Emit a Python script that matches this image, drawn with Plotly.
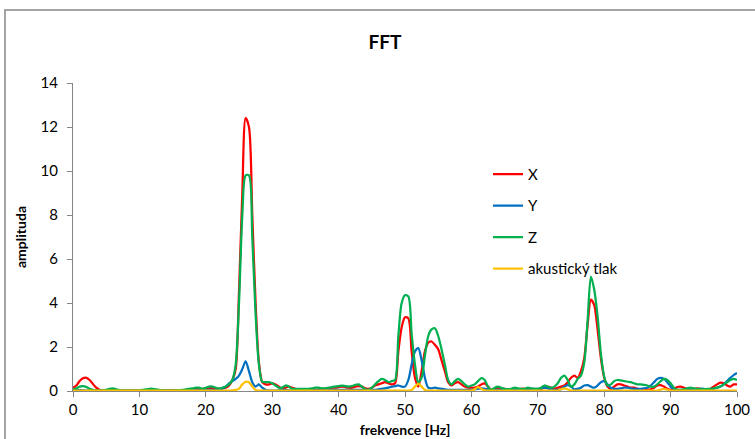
import plotly.graph_objects as go

# Frequency grid [Hz], 0.5 Hz step (categories of the x axis)
freq = [i * 0.5 for i in range(201)]

x_vals = [
    0.15, 0.25, 0.45, 0.58, 0.6, 0.5, 0.32, 0.15, 0.06, 0.03,
    0.02, 0.02, 0.03, 0.03, 0.02, 0.02, 0.02, 0.02, 0.02, 0.02,
    0.02, 0.03, 0.04, 0.05, 0.04, 0.03, 0.03, 0.03, 0.03, 0.03,
    0.03, 0.03, 0.03, 0.03, 0.04, 0.05, 0.06, 0.08, 0.1, 0.1,
    0.12, 0.15, 0.12, 0.08, 0.1, 0.12, 0.15, 0.25, 0.5, 1.0,
    4.5, 9.0, 12.4, 12.0, 8.0, 4.0, 1.3, 0.4, 0.3, 0.3,
    0.35, 0.3, 0.2, 0.1, 0.15, 0.2, 0.15, 0.1, 0.05, 0.05,
    0.05, 0.05, 0.05, 0.05, 0.08, 0.1, 0.1, 0.12, 0.15, 0.15,
    0.18, 0.2, 0.18, 0.15, 0.15, 0.2, 0.22, 0.2, 0.12, 0.1,
    0.15, 0.25, 0.3, 0.35, 0.4, 0.35, 0.3, 0.35, 1.8, 2.9,
    3.35, 3.3, 1.8, 0.6, 0.2, 0.9, 1.8, 2.2, 2.25, 2.1,
    1.9, 1.4, 0.9, 0.4, 0.25, 0.35, 0.4, 0.3, 0.2, 0.15,
    0.15, 0.15, 0.2, 0.3, 0.35, 0.2, 0.05, 0.1, 0.15, 0.1,
    0.1, 0.08, 0.05, 0.05, 0.08, 0.1, 0.1, 0.08, 0.05, 0.05,
    0.08, 0.1, 0.15, 0.2, 0.15, 0.1, 0.15, 0.2, 0.25, 0.4,
    0.6, 0.7, 0.6, 0.9, 1.5, 3.0, 4.15, 3.9, 2.8, 1.5,
    0.6, 0.2, 0.1, 0.2, 0.3, 0.3, 0.25, 0.2, 0.15, 0.15,
    0.1, 0.08, 0.05, 0.05, 0.08, 0.15, 0.25, 0.27, 0.2, 0.1,
    0.05, 0.1, 0.18, 0.2, 0.15, 0.1, 0.05, 0.08, 0.12, 0.1,
    0.05, 0.05, 0.1, 0.2, 0.3, 0.38, 0.35, 0.25, 0.2, 0.3,
    0.3,
]

y_vals = [
    0.05, 0.05, 0.04, 0.03, 0.02, 0.02, 0.02, 0.02, 0.02, 0.02,
    0.02, 0.02, 0.03, 0.03, 0.02, 0.02, 0.02, 0.02, 0.02, 0.02,
    0.02, 0.02, 0.02, 0.02, 0.02, 0.02, 0.02, 0.03, 0.03, 0.02,
    0.02, 0.02, 0.02, 0.02, 0.02, 0.02, 0.03, 0.03, 0.03, 0.03,
    0.03, 0.05, 0.05, 0.03, 0.05, 0.1, 0.2, 0.35, 0.45, 0.55,
    0.7, 1.0, 1.35, 0.9, 0.4, 0.2, 0.3, 0.15, 0.05, 0.03,
    0.02, 0.02, 0.03, 0.05, 0.05, 0.03, 0.02, 0.02, 0.02, 0.02,
    0.02, 0.02, 0.03, 0.03, 0.03, 0.02, 0.02, 0.03, 0.05, 0.05,
    0.05, 0.05, 0.05, 0.05, 0.05, 0.05, 0.05, 0.05, 0.05, 0.05,
    0.05, 0.05, 0.08, 0.1, 0.12, 0.15, 0.2, 0.22, 0.25, 0.2,
    0.2, 0.5, 1.2, 1.8, 1.95, 1.4, 0.6, 0.15, 0.12, 0.15,
    0.12, 0.1, 0.08, 0.05, 0.05, 0.05, 0.05, 0.05, 0.05, 0.05,
    0.05, 0.08, 0.1, 0.12, 0.1, 0.08, 0.05, 0.05, 0.05, 0.05,
    0.05, 0.05, 0.05, 0.05, 0.05, 0.05, 0.05, 0.08, 0.1, 0.1,
    0.1, 0.12, 0.15, 0.12, 0.08, 0.05, 0.05, 0.08, 0.2, 0.27,
    0.2, 0.08, 0.1, 0.15, 0.25, 0.27, 0.2, 0.15, 0.25, 0.4,
    0.45, 0.3, 0.15, 0.1, 0.1, 0.12, 0.15, 0.15, 0.12, 0.1,
    0.1, 0.1, 0.12, 0.15, 0.25, 0.4, 0.55, 0.6, 0.55, 0.4,
    0.2, 0.08, 0.05, 0.05, 0.05, 0.05, 0.05, 0.05, 0.08, 0.1,
    0.1, 0.08, 0.08, 0.1, 0.15, 0.2, 0.3, 0.45, 0.6, 0.72,
    0.82,
]

z_vals = [
    0.05, 0.12, 0.2, 0.22, 0.18, 0.1, 0.05, 0.03, 0.02, 0.02,
    0.05, 0.1, 0.12, 0.08, 0.04, 0.02, 0.02, 0.02, 0.02, 0.02,
    0.03, 0.05, 0.08, 0.1, 0.1, 0.08, 0.05, 0.03, 0.02, 0.02,
    0.02, 0.03, 0.04, 0.05, 0.08, 0.1, 0.12, 0.15, 0.15, 0.1,
    0.15, 0.2, 0.2, 0.15, 0.12, 0.15, 0.2, 0.3, 0.5, 1.2,
    4.0, 8.0, 9.8, 9.8, 7.0, 3.5, 1.2, 0.42, 0.4, 0.4,
    0.35, 0.25, 0.15, 0.15, 0.25, 0.2, 0.1, 0.1, 0.1, 0.1,
    0.1, 0.1, 0.12, 0.15, 0.15, 0.12, 0.12, 0.15, 0.18, 0.2,
    0.22, 0.25, 0.22, 0.2, 0.22, 0.28, 0.3, 0.2, 0.08, 0.05,
    0.15, 0.3, 0.45, 0.55, 0.5, 0.4, 0.45, 0.5, 2.5, 4.0,
    4.35, 4.3, 2.6, 1.2, 0.4, 0.6, 1.6, 2.5, 2.8, 2.85,
    2.5, 1.9, 1.2, 0.5, 0.3, 0.45, 0.55, 0.45, 0.3, 0.2,
    0.25, 0.3, 0.45, 0.58, 0.5, 0.2, 0.05, 0.15, 0.2, 0.15,
    0.1, 0.08, 0.1, 0.15, 0.12, 0.1, 0.1, 0.15, 0.12, 0.1,
    0.1, 0.15, 0.25, 0.2, 0.15, 0.2, 0.35, 0.6, 0.7, 0.5,
    0.2, 0.3, 0.55, 0.7, 1.3, 3.2, 5.2, 4.6, 3.4, 1.7,
    0.65, 0.25, 0.3, 0.45, 0.5, 0.48, 0.45, 0.42, 0.4, 0.35,
    0.3, 0.3, 0.28, 0.25, 0.2, 0.2, 0.3, 0.45, 0.55, 0.5,
    0.35, 0.15, 0.05, 0.05, 0.08, 0.12, 0.15, 0.12, 0.1, 0.1,
    0.08, 0.1, 0.1, 0.12, 0.15, 0.2, 0.3, 0.4, 0.5, 0.55,
    0.5,
]

tlak_vals = [
    0.02, 0.02, 0.02, 0.02, 0.02, 0.02, 0.02, 0.02, 0.02, 0.02,
    0.02, 0.02, 0.02, 0.02, 0.02, 0.02, 0.02, 0.02, 0.02, 0.02,
    0.02, 0.02, 0.02, 0.02, 0.02, 0.02, 0.02, 0.02, 0.02, 0.02,
    0.02, 0.02, 0.02, 0.02, 0.02, 0.02, 0.02, 0.02, 0.02, 0.02,
    0.02, 0.02, 0.02, 0.02, 0.02, 0.02, 0.02, 0.02, 0.03, 0.05,
    0.1, 0.3, 0.42, 0.4, 0.2, 0.05, 0.02, 0.02, 0.02, 0.02,
    0.02, 0.02, 0.02, 0.02, 0.02, 0.02, 0.02, 0.02, 0.02, 0.02,
    0.02, 0.02, 0.02, 0.02, 0.02, 0.02, 0.02, 0.02, 0.02, 0.02,
    0.02, 0.02, 0.02, 0.02, 0.02, 0.02, 0.02, 0.02, 0.02, 0.02,
    0.02, 0.02, 0.02, 0.02, 0.02, 0.02, 0.02, 0.02, 0.02, 0.02,
    0.02, 0.02, 0.05, 0.2, 0.32, 0.2, 0.05, 0.02, 0.02, 0.02,
    0.02, 0.02, 0.02, 0.02, 0.02, 0.02, 0.02, 0.02, 0.02, 0.02,
    0.02, 0.08, 0.18, 0.1, 0.03, 0.02, 0.02, 0.02, 0.02, 0.02,
    0.02, 0.02, 0.02, 0.02, 0.02, 0.02, 0.02, 0.02, 0.02, 0.02,
    0.02, 0.02, 0.02, 0.02, 0.02, 0.02, 0.02, 0.08, 0.12, 0.08,
    0.02, 0.02, 0.02, 0.02, 0.02, 0.02, 0.02, 0.02, 0.02, 0.02,
    0.02, 0.02, 0.02, 0.02, 0.02, 0.02, 0.02, 0.02, 0.02, 0.02,
    0.02, 0.02, 0.02, 0.02, 0.02, 0.02, 0.02, 0.06, 0.1, 0.06,
    0.02, 0.02, 0.02, 0.02, 0.02, 0.02, 0.02, 0.02, 0.02, 0.02,
    0.02, 0.02, 0.02, 0.02, 0.02, 0.02, 0.02, 0.02, 0.02, 0.02,
    0.02,
]

series_names = ["X", "Y", "Z", "akustický tlak"]
series_colors = ["#FF0000", "#0070C0", "#00B050", "#FFC000"]
series_values = [x_vals, y_vals, z_vals, tlak_vals]

x_ticks = [0, 10, 20, 30, 40, 50, 60, 70, 80, 90, 100]
y_ticks = [0, 2, 4, 6, 8, 10, 12, 14]

FONT = "Lato, Carlito, Calibri, sans-serif"

fig = go.Figure()
for name, color, vals in zip(series_names, series_colors, series_values):
    fig.add_trace(go.Scatter(
        x=freq, y=vals, name=name, mode="lines",
        line=dict(color=color, width=2.25, shape="spline", smoothing=0.8),
        legendgroup=name,
    ))

fig.update_layout(
    width=755, height=439,
    margin=dict(l=73, r=18, t=83, b=48),
    paper_bgcolor="white", plot_bgcolor="white",
    font=dict(family=FONT, size=14, color="#000000"),
    title=dict(text="<b>FFT</b>", x=0.51, xref="container", xanchor="center",
               y=1 - 42 / 439, yref="container", yanchor="middle",
               font=dict(family=FONT, size=19, color="#000000")),
    xaxis=dict(range=[0, 100], tickvals=x_ticks, showgrid=False, zeroline=False,
               showline=True, linecolor="#868686", linewidth=1, automargin=False,
               ticks="outside", ticklen=5, tickcolor="#868686",
               tickfont=dict(family=FONT, size=15, color="#000000"),
               title=dict(text="<b>frekvence [Hz]</b>", standoff=8,
                          font=dict(family=FONT, size=14, color="#000000"))),
    yaxis=dict(range=[0, 14], tickvals=y_ticks, showgrid=False, zeroline=False,
               showline=True, linecolor="#868686", linewidth=1, automargin=False,
               ticks="outside", ticklen=5, tickcolor="#868686",
               ticklabelstandoff=6,
               tickfont=dict(family=FONT, size=15, color="#000000"),
               title=dict(text="<b>amplituda</b>", standoff=10,
                          font=dict(family=FONT, size=14, color="#000000"))),
    legend=dict(x=0.625, y=0.757, xanchor="left", yanchor="top",
                bgcolor="rgba(0,0,0,0)", tracegroupgap=9,
                font=dict(family=FONT, size=15, color="#000000")),
    showlegend=True,
)

# Outer chart-area border
fig.add_shape(type="rect", xref="paper", yref="paper",
              x0=(5 - 73) / 664, x1=(762 - 73) / 664,
              y0=(391 - 450) / 308, y1=(391 - 10) / 308,
              line=dict(color="#868686", width=1.5), fillcolor="rgba(0,0,0,0)",
              layer="below")

fig.write_html("out.html")
